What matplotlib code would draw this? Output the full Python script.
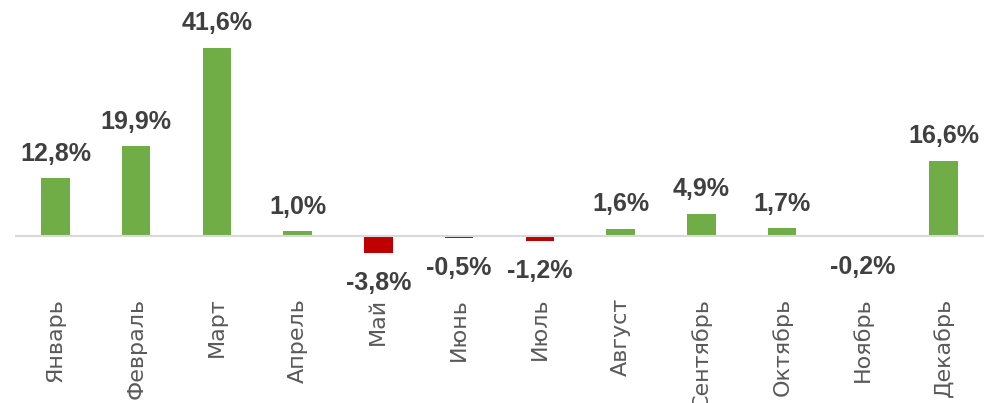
import matplotlib.pyplot as plt
import numpy as np

# данные: изменение по месяцам, %
months = ['Январь', 'Февраль', 'Март', 'Апрель', 'Май', 'Июнь',
          'Июль', 'Август', 'Сентябрь', 'Октябрь', 'Ноябрь', 'Декабрь']
values = [12.8, 19.9, 41.6, 1.0, -3.8, -0.5, -1.2, 1.6, 4.9, 1.7, -0.2, 16.6]
labels = ['12,8%', '19,9%', '41,6%', '1,0%', '-3,8%', '-0,5%',
          '-1,2%', '1,6%', '4,9%', '1,7%', '-0,2%', '16,6%']

green = '#70AD47'
red = '#C00000'

fig = plt.figure(figsize=(9.84, 4.03), dpi=100)
ax = fig.add_axes([15 / 984, 115 / 403, 969 / 984, 278 / 403])

x = np.arange(len(months))
colors = [green if v >= 0 else red for v in values]
ax.bar(x, values, width=0.35, color=colors, zorder=2)

# линия нуля
ax.axhline(0, color='#D9D9D9', linewidth=1.5, zorder=3)

for xi, v, lab in zip(x, values, labels):
    if v >= 0:
        ax.annotate(lab, (xi, v), xytext=(0, 9), textcoords='offset points',
                    ha='center', va='bottom', fontsize=18, fontweight='bold',
                    color='#404040', family='Liberation Sans')
    else:
        ax.annotate(lab, (xi, v), xytext=(0, -13), textcoords='offset points',
                    ha='center', va='top', fontsize=18, fontweight='bold',
                    color='#404040', family='Liberation Sans')

ax.set_xlim(-0.5, 11.5)
ax.set_ylim(-11.5, 50)
ax.set_xticks(x)
ax.set_xticklabels(months, rotation=90, ha='center', va='top',
                   fontsize=16, color='#595959')
ax.tick_params(axis='x', length=0, pad=7)
ax.set_yticks([])
for s in ax.spines.values():
    s.set_visible(False)

fig.savefig('out.png', dpi=100)
